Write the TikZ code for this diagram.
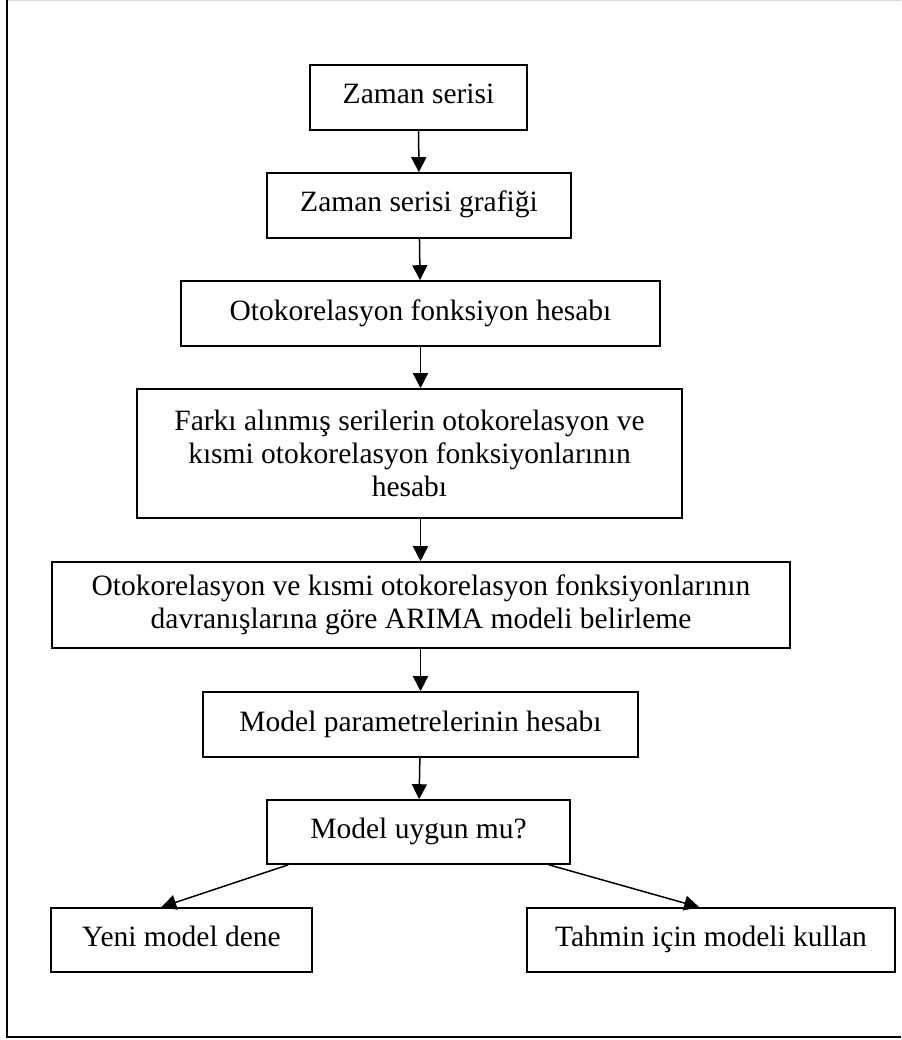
\documentclass[tikz,border=0pt]{standalone}
\usepackage{fontspec}
\setmainfont{Liberation Serif}
\usetikzlibrary{arrows.meta}
\tikzset{
  box/.style={draw, line width=1.6pt, inner sep=0pt, align=center, font=\fontsize{29.5}{33}\selectfont},
  onebox/.style={box, text height=20pt, text depth=7pt},
}
\begin{document}
\begin{tikzpicture}[x=1pt, y=-1pt, >={Triangle[length=15pt,width=15pt]}, line width=1.5pt]
\useasboundingbox (0,0) rectangle (901,1040);
% frame
\draw[black!15, line width=1.5pt] (7,0.75) -- (901,0.75);
\draw[line width=2pt] (7,0) -- (7,1037) -- (901,1037);
% boxes
\node[onebox, minimum width=217, minimum height=65] (zs) at (418.5,97.5) {Zaman serisi};
\node[onebox, minimum width=304, minimum height=65] (zsg) at (419,205.5) {Zaman serisi grafiği};
\node[onebox, minimum width=479, minimum height=65] (ofh) at (420.5,313.5) {Otokorelasyon fonksiyon hesabı};
\node[box, minimum width=545, minimum height=129] (fark) at (409.5,453.5) {Farkı alınmış serilerin otokorelasyon ve\\kısmi otokorelasyon fonksiyonlarının\\hesabı};
\node[box, minimum width=738, minimum height=86] (arima) at (421,605) {Otokorelasyon ve kısmi otokorelasyon fonksiyonlarının\\davranışlarına göre ARIMA modeli belirleme};
\node[onebox, minimum width=435, minimum height=65] (mph) at (420.5,724.5) {Model parametrelerinin hesabı};
\node[onebox, minimum width=303, minimum height=64] (mum) at (418.5,832) {Model uygun mu?};
\node[onebox, minimum width=261, minimum height=64] (yeni) at (181.5,940) {Yeni model dene};
\node[onebox, minimum width=368, minimum height=64] (tahmin) at (711,940) {Tahmin için modeli kullan};
% arrows
\draw[->] (zs) -- (zsg);
\draw[->] (zsg) -- (ofh);
\draw[->] (ofh.south) -- (ofh.south |- fark.north);
\draw[->] (ofh.south |- fark.south) -- (ofh.south |- arima.north);
\draw[->] (arima.south -| mph.north) -- (mph.north);
\draw[->] (mph) -- (mum);
\draw[->] ([xshift=22pt]mum.south west) -- ([xshift=111pt]yeni.north west);
\draw[->] ([xshift=-22pt]mum.south east) -- ([xshift=173pt]tahmin.north west);
\end{tikzpicture}
\end{document}
